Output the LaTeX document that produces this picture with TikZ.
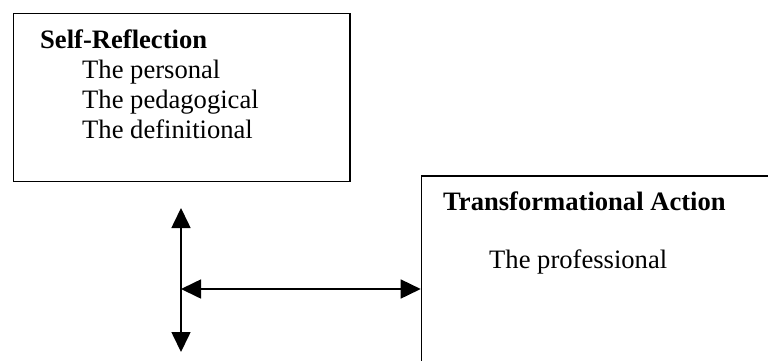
\documentclass[tikz,border=0pt]{standalone}
\usepackage{fontspec}
\setmainfont{Liberation Serif}
\usetikzlibrary{arrows.meta}
\tikzset{
  boxframe/.style={draw, line width=1.6pt, inner sep=0pt, anchor=north west},
  headtext/.style={anchor=base west, inner sep=0pt, font=\fontsize{26.6}{30}\selectfont\bfseries},
  itemtext/.style={anchor=base west, inner sep=0pt, font=\fontsize{26.6}{30}\selectfont},
  arr/.style={line width=1.6pt, {Triangle[length=20pt,width=19pt]}-{Triangle[length=20pt,width=19pt]}}
}
\begin{document}
\begin{tikzpicture}[x=1pt,y=-1pt]
\useasboundingbox (0,0) rectangle (768,360);
\node[boxframe, minimum width=336.5pt, minimum height=168pt] (box1) at (12.5,12.5) {};
\node[boxframe, minimum width=400pt, minimum height=250pt] (box2) at (420.7,175) {};
\node[headtext] (h1) at (40,48) {Self-Reflection};
\node[itemtext] (i1) at (82,78) {The personal};
\node[itemtext] (i2) at (82,108) {The pedagogical};
\node[itemtext] (i3) at (82,138) {The definitional};
\node[headtext] (h2) at (443,210) {Transformational Action};
\node[itemtext] (i4) at (489,268) {The professional};
\coordinate (vtop) at (181,208);
\coordinate (vbot) at (181,352);
\coordinate (vmid) at (181,289);
\draw[arr] (vtop) -- (vbot);
\draw[arr] (vmid) -- (vmid -| box2.west);
\end{tikzpicture}
\end{document}
